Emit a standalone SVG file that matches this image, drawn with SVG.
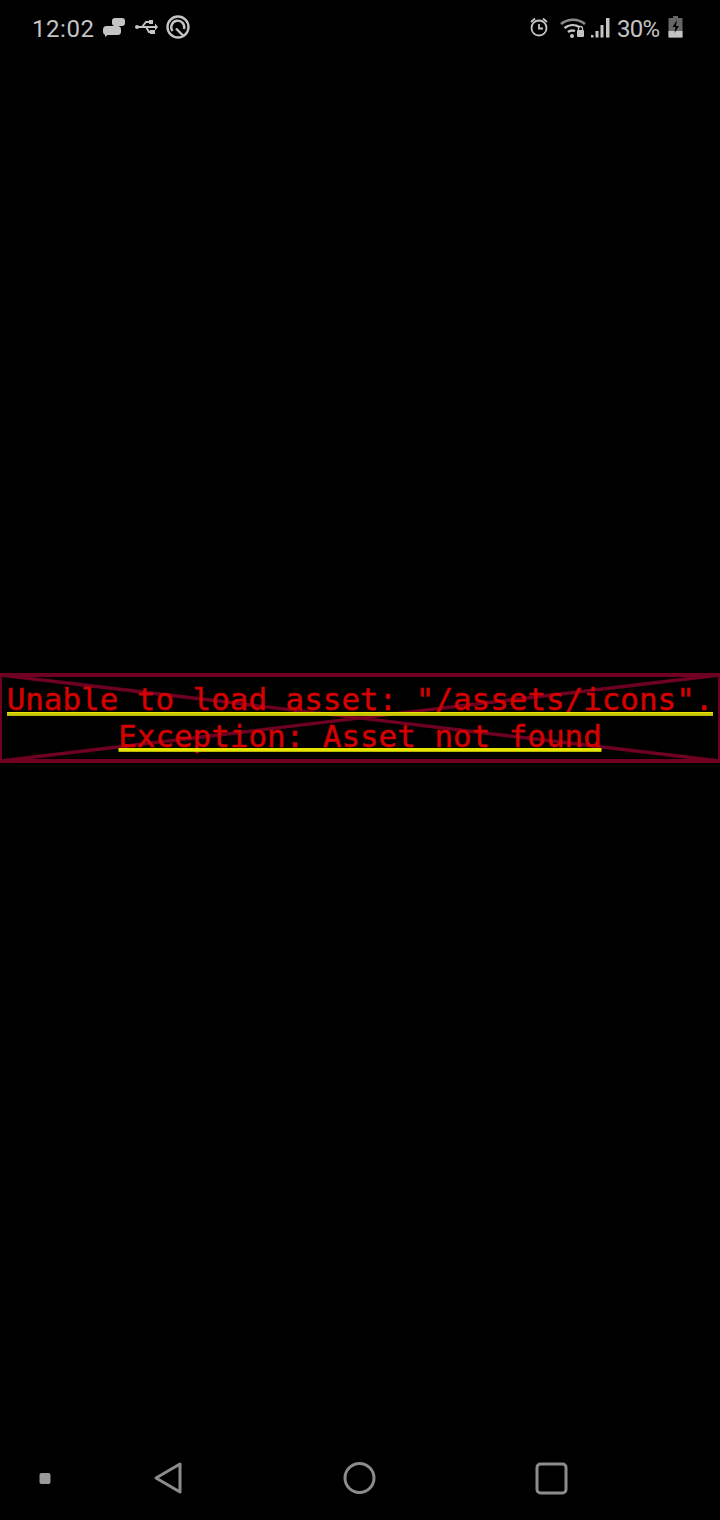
<svg xmlns="http://www.w3.org/2000/svg" width="720" height="1520" viewBox="0 0 720 1520">
<style>
.st{font-family:"Roboto","Liberation Sans",sans-serif;font-size:24px;fill:#c4c4c4}
.err{font-family:"DejaVu Sans Mono","Liberation Mono",monospace;font-size:30.9px;fill:#d50000;stroke:#d50000;stroke-width:.45px;text-anchor:middle}
.frame{fill:none;stroke:#6f0022;stroke-width:4}
.x{stroke:#6f0022;stroke-width:3.400;fill:none}
.ul{fill:#e6e600}
.nav{fill:none;stroke:#8c8c8c;stroke-width:3;stroke-linejoin:round}
.ic{fill:#c4c4c4}
.il{fill:none;stroke:#c4c4c4;stroke-width:2.400}
</style>
<rect width="720" height="1520" fill="#000"/>
<g id="status-left">
<text class="st" x="32" y="36.500" textLength="62" lengthAdjust="spacing">12:02</text>
<g id="chat-icon"><rect class="ic" x="112" y="18" width="13" height="8" rx="3"/><rect class="ic" x="103" y="26" width="18" height="9" rx="3.500"/><path class="ic" d="M105 34l0 3 4-3z"/></g>
<g id="usb-icon"><path class="il" d="M136 27h20M142 27l4-5h4M146 27l3 5h3" style="stroke-width:2"/><path class="ic" d="M155 23.500l3 3.500-3 3.500zM149 20h4v4h-4zM150 30h5v4h-5z"/><circle class="ic" cx="137" cy="27" r="2"/></g>
<g id="q-icon"><circle cx="178" cy="27" r="10.500" fill="none" stroke="#c4c4c4" stroke-width="2.400"/><path d="M172.500 31a6.500 6.500 0 1 1 11.500 -2M176 28.500l8 8" fill="none" stroke="#c4c4c4" stroke-width="2.400"/></g>
</g>
<g id="status-right">
<g id="alarm-icon"><circle class="il" cx="539" cy="28" r="7.500" style="stroke-width:1.800"/><path class="il" d="M539 24v4.500h4M531 22l4-3.500M547 22l-4-3.500" style="stroke-width:1.800"/></g>
<g id="wifi-icon"><path d="M561 24a19 19 0 0 1 24 0" fill="none" stroke="#8a8a8a" stroke-width="2.600"/><path class="il" d="M564.500 28a13 13 0 0 1 15 -1M568 32a7 7 0 0 1 7 -1"/><circle class="ic" cx="572" cy="36" r="2"/><rect class="ic" x="577" y="30" width="7" height="7" rx="1"/><path d="M578.500 30v-1.500a2 2 0 0 1 4 0v1.500" fill="none" stroke="#c4c4c4" stroke-width="1.300"/></g>
<g id="signal-icon"><rect class="ic" x="591" y="35" width="2.500" height="2.500"/><rect class="ic" x="595.500" y="31" width="3" height="6.500"/><rect class="ic" x="600.500" y="25" width="3" height="12.500"/><rect class="ic" x="606" y="18" width="3.500" height="19.500"/></g>
<text class="st" x="617" y="36.500" textLength="43" lengthAdjust="spacing">30%</text>
<g id="battery-icon"><rect x="668.500" y="18" width="14" height="19.500" rx="1" fill="#666"/><rect x="673" y="16" width="5" height="2" fill="#666"/><path class="ic" d="M668.500 31h14v6.500h-14z"/><path d="M677 20l-4.500 7h3l-1 6 4.500-7h-3z" fill="#000"/></g>
</g>
<g id="error-box">
<rect class="frame" x="0" y="675" width="720" height="86"/>
<path class="x" d="M0 675L720 761M720 675L0 761"/>
<text class="err" x="360" y="710">Unable to load asset: "/assets/icons".</text>
<rect class="ul" x="7" y="712" width="706" height="3.800"/>
<rect x="7" y="713.600" width="706" height="0.800" fill="#9a9a00"/>
<text class="err" x="360" y="747">Exception: Asset not found</text>
<rect class="ul" x="118.500" y="748" width="483" height="3.800"/>
</g>
<g id="nav-bar">
<rect x="39.500" y="1473" width="11" height="11" rx="2" fill="#9a9a9a"/>
<path class="nav" d="M156 1478L180 1464V1492Z"/>
<circle class="nav" cx="359.500" cy="1478" r="14.500"/>
<rect class="nav" x="537" y="1464" width="29" height="29" rx="3.500"/>
</g>
</svg>
